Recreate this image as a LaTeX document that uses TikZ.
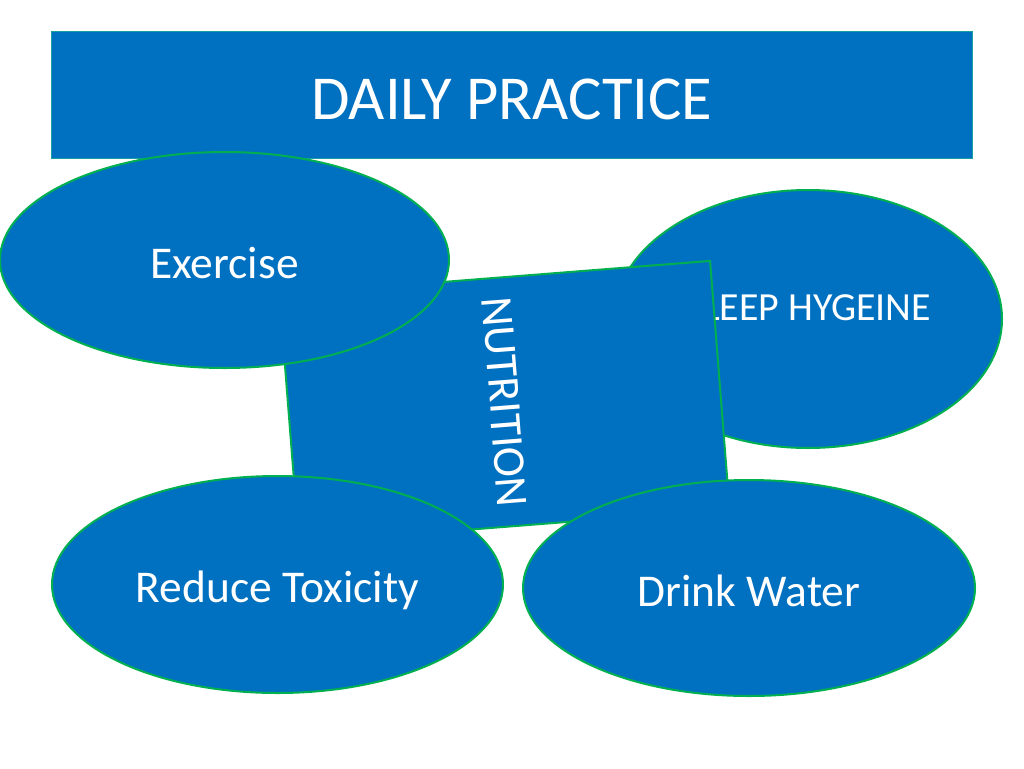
\documentclass[tikz,border=0pt]{standalone}
\usepackage{fontspec}
\setmainfont{Carlito}
\usepackage{graphicx}
\usepackage{xcolor}
\usetikzlibrary{shapes}
\definecolor{slideblue}{HTML}{0070C0}
\definecolor{slidegreen}{HTML}{00B050}
\definecolor{titleedge}{HTML}{1A9EA0}

\begin{document}
\begin{tikzpicture}[x=0.75pt,y=-0.75pt,line width=1.5pt,
	every node/.style={text=white,fill=slideblue,draw=slidegreen},
	bubble/.style={ellipse,inner sep=0pt,text height=27pt,text depth=0pt,font=\fontsize{34.1}{40}\selectfont}]
	\fill[white] (0,0) rectangle (1024,768);
	\useasboundingbox (0,0) rectangle (1024,768);

	\node[rectangle,draw=titleedge,line width=0.75pt,minimum width=691pt,minimum height=95.25pt,
		text height=37pt,text depth=0pt,font=\fontsize{46.9}{56}\selectfont]	(title)	at (511.75,94.5)	{DAILY PRACTICE};
	\node[bubble,minimum width=291pt,minimum height=193.5pt,text height=20pt,text depth=18pt,
		font=\fontsize{29.9}{36}\selectfont]						(sleep)		at (808,319)		{SLEEP HYGEINE};
	\node[rectangle,rotate=4.5,minimum width=324pt,minimum height=186.75pt,
		font=\fontsize{34.1}{40}\selectfont]						(nutrition)	at (504.5,402)		{\rotatebox{-90}{NUTRITION}};
	\node[bubble,minimum width=336.75pt,minimum height=162pt]	(exercise)	at (224.5,260)		{Exercise};
	\node[bubble,minimum width=338.25pt,minimum height=162.75pt]	(toxicity)	at (277.5,584.5)	{Reduce Toxicity};
	\node[bubble,minimum width=339pt,minimum height=162pt]		(water)		at (749,588)		{Drink Water};
\end{tikzpicture}
\end{document}
